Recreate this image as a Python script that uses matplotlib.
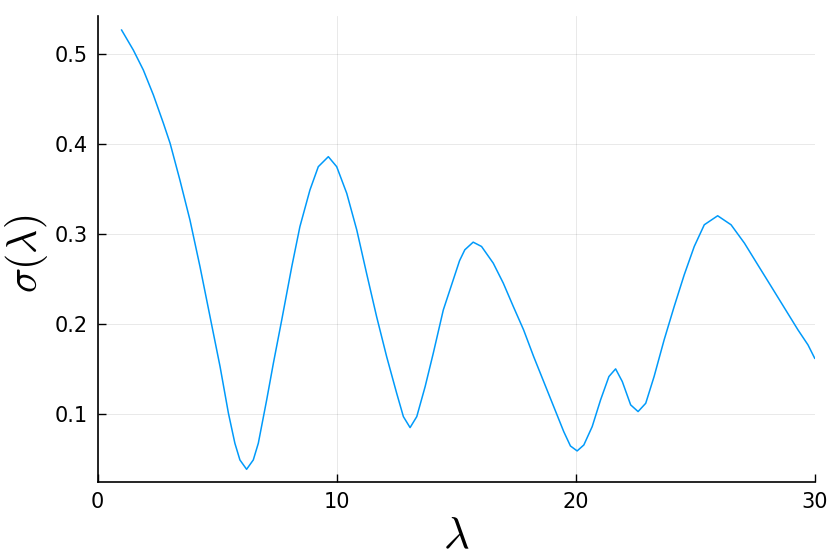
import matplotlib
matplotlib.use("Agg")
import matplotlib.pyplot as plt

plt.rcParams['mathtext.fontset'] = 'cm'

lam = [1.00, 1.49, 1.91, 2.33, 2.75, 3.03, 3.44, 3.86, 4.28, 4.70, 5.12, 5.47, 5.74, 5.95,
       6.23, 6.51, 6.72, 7.07, 7.35, 7.70, 8.12, 8.46, 8.88, 9.23, 9.65, 10.00, 10.42, 10.84,
       11.25, 11.67, 12.09, 12.51, 12.79, 13.07, 13.35, 13.70, 14.04, 14.46, 15.14, 15.36,
       15.71, 16.06, 16.55, 16.97, 17.39, 17.82, 18.24, 18.66, 19.08, 19.50, 19.78, 20.06,
       20.34, 20.69, 21.04, 21.39, 21.67, 21.95, 22.30, 22.61, 22.93, 23.28, 23.70, 24.12,
       24.54, 24.96, 25.38, 25.94, 26.50, 27.06, 27.62, 28.18, 28.74, 29.30, 29.72, 30.00]
sigma = [0.5266, 0.5044, 0.4822, 0.4545, 0.4230, 0.4008, 0.3600, 0.3157, 0.2639, 0.2084,
         0.1529, 0.1011, 0.0678, 0.0493, 0.0389, 0.0493, 0.0678, 0.1159, 0.1566, 0.2047,
         0.2639, 0.3083, 0.3490, 0.3749, 0.3860, 0.3749, 0.3453, 0.3046, 0.2565, 0.2084,
         0.1640, 0.1233, 0.0974, 0.0852, 0.0974, 0.1307, 0.1677, 0.2158, 0.2705, 0.2826,
         0.2911, 0.2863, 0.2678, 0.2456, 0.2196, 0.1937, 0.1641, 0.1363, 0.1085, 0.0807,
         0.0648, 0.0593, 0.0659, 0.0863, 0.1159, 0.1419, 0.1504, 0.1363, 0.1104, 0.1030,
         0.1122, 0.1419, 0.1826, 0.2196, 0.2548, 0.2863, 0.3104, 0.3204, 0.3104, 0.2900,
         0.2659, 0.2419, 0.2178, 0.1937, 0.1770, 0.1622]

xticks = [0, 10, 20, 30]
yticks = [0.1, 0.2, 0.3, 0.4, 0.5]

fig = plt.figure(figsize=(8.3, 5.54), dpi=100)
ax = fig.add_axes([97.7/830, 1-482/554, (814.7-97.7)/830, (482-16)/554])
ax.plot(lam, sigma, color='#009AFA', lw=1.1, solid_joinstyle='round')
ax.set_xlim(0, 30)
ax.set_ylim(0.0248, 0.5422)
ax.set_xticks(xticks)
ax.set_xticklabels([str(t) for t in xticks])
ax.set_yticks(yticks)
ax.set_yticklabels([f"{t:.1f}" for t in yticks])
ax.grid(True, color='black', alpha=0.1, lw=0.6)
for s in ['top', 'right']:
    ax.spines[s].set_visible(False)
for s in ['left', 'bottom']:
    ax.spines[s].set_linewidth(1.2)
ax.tick_params(direction='in', length=6, width=1, labelsize=15, pad=7)

fig.text(456/830, 1-548/554, r'$\lambda$', fontsize=32, ha='center', va='baseline')
fig.text(27/830, 1-254/554, r'$\sigma(\lambda)$', fontsize=30, ha='center', va='center', rotation=90)

fig.savefig('out.png', dpi=100)
